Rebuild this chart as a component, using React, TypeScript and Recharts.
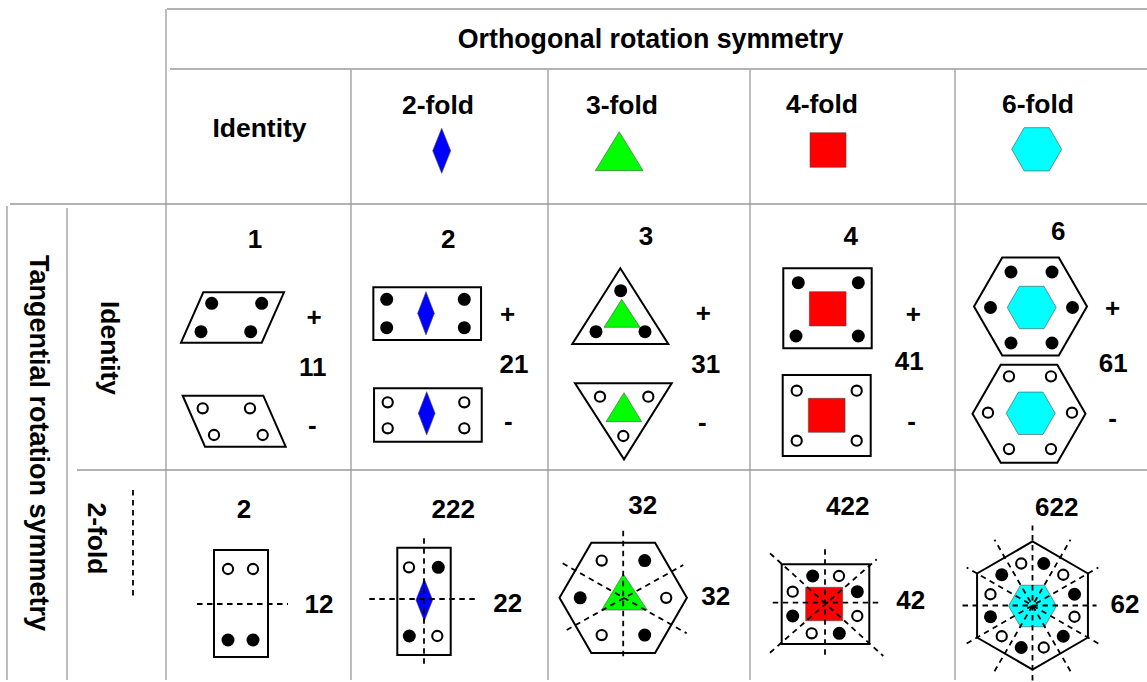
import React from "react";
import { ReferenceLine, Scatter, ScatterChart, XAxis, YAxis } from "recharts";

// ---- content ----
const AXIS_TITLES = ["Orthogonal rotation symmetry", "Tangential rotation symmetry"];
const COLUMN_TITLES = ["Identity", "2-fold", "3-fold", "4-fold", "6-fold"];
const ROW_TITLES = ["Identity", "2-fold"];
const IDENTITY_GROUPS = ["1", "2", "3", "4", "6"];
const IDENTITY_CODES = ["11", "21", "31", "41", "61"];
const TWOFOLD_GROUPS = ["2", "222", "32", "422", "622"];
const TWOFOLD_CODES = ["12", "22", "32", "42", "62"];

// ---- layout ----
const W = 1147;
const H = 682;
const FONT = "'Liberation Sans', Arial, Helvetica, sans-serif";
const GRID = "#9a9a9a";
const BLUE = "#0000ff";
const GREEN = "#00ff00";
const RED = "#ff0000";
const CYAN = "#00ffff";

const COL_EDGES = [166, 351, 548, 750, 955, 1147];
const colX = (i: number) => (COL_EDGES[i] + COL_EDGES[i + 1]) / 2;
const HEADER_Y = 136;
const IDENTITY_Y = 365;
const TWOFOLD_Y = 603;

const GRID_SEGMENTS: [number, number, number, number][] = [
  [167, 9, W, 9],
  [170, 69, W, 69],
  [10, 204, W, 204],
  [77, 470, W, 470],
  [166, 9, 166, 680],
  [7, 206, 7, 680],
  [67, 208, 67, 680],
  [351, 70, 351, 680],
  [548, 70, 548, 680],
  [750, 70, 750, 680],
  [955, 70, 955, 680],
];

// offsets from the cell anchor
const HD_TEXT = [[1, 1], [-11.5, -21.7], [-27, -21.7], [-30.5, -22.7], [-13, -23]];
const HD_GLYPH = [[0, 0], [-7.8, 14.8], [-29.8, 15.2], [-24.5, 14], [-14.3, 13.3]];
const ID_LABEL = [[-3.5, -117], [-1.2, -117], [-3, -120], [-1.8, -120], [7.3, -125]];
const ID_CODE = [[54.2, 11], [64.5, 7.7], [56.7, 8.3], [56.8, 5], [62.3, 6.7]];
const ID_PLUS = [[55.5, -48.3], [58.2, -51], [54.3, -52.3], [60.8, -51], [61.7, -57.7]];
const ID_MINUS = [[53.8, 61.7], [58.8, 57.7], [53.3, 59.3], [59.2, 58.3], [61.7, 55]];
const ID_TOP = [[-26, -47.5], [-22.3, -51.3], [-28.7, -49], [-25, -56.7], [-20.5, -58.5]];
const ID_BOTTOM = [[-24.3, 56.2], [-21.6, 50], [-25.7, 50], [-25.8, 50.5], [-22, 48.7]];
const TF_GLYPH = [[-17.5, 0.5], [-25.5, -1.7], [-25.8, -5.2], [-27.5, 1], [-18.5, 2.5]];
const TF_LABEL = [[-14.5, -85], [3.8, -85], [-6.3, -89], [-4.8, -88], [5.7, -87]];
const TF_CODE = [[60.5, 10], [58.2, 8.7], [66.7, 2], [58.2, 6.3], [74, 10.3]];

type Pt = [number, number];

const toStr = (p: Pt[]) => p.map(([x, y]) => `${x.toFixed(2)},${y.toFixed(2)}`).join(" ");
const at = (ox: number, oy: number, p: Pt[]): Pt[] => p.map(([x, y]) => [ox + x, oy + y] as Pt);
const rect = (w: number, h: number): Pt[] => [[-w / 2, -h / 2], [w / 2, -h / 2], [w / 2, h / 2], [-w / 2, h / 2]];
const diamond = (w: number, h: number): Pt[] => [[0, -h / 2], [w / 2, 0], [0, h / 2], [-w / 2, 0]];
const hexagon = (r: number, start: number): Pt[] =>
  [0, 1, 2, 3, 4, 5].map((k) => {
    const a = ((start + 60 * k) * Math.PI) / 180;
    return [r * Math.cos(a), r * Math.sin(a)] as Pt;
  });
const ring = (r: number, angles: number[]): Pt[] =>
  angles.map((d) => [r * Math.cos((d * Math.PI) / 180), -r * Math.sin((d * Math.PI) / 180)] as Pt);
const ray = (deg: number, back: number, fwd: number): [Pt, Pt] => {
  const c = Math.cos((deg * Math.PI) / 180);
  const s = -Math.sin((deg * Math.PI) / 180);
  return [[-back * c, -back * s], [fwd * c, fwd * s]];
};

function Outline({ p }: { p: Pt[] }) {
  return <polygon points={toStr(p)} fill="#fff" stroke="#000" strokeWidth={2} />;
}

function Solid({ p, fill }: { p: Pt[]; fill: string }) {
  return <polygon points={toStr(p)} fill={fill} stroke="#4a4a4a" strokeWidth={0.6} />;
}

function Dots({ p, filled }: { p: Pt[]; filled: boolean }) {
  return (
    <g>
      {p.map(([x, y], k) =>
        filled ? (
          <circle key={k} cx={x} cy={y} r={6.5} fill="#000" />
        ) : (
          <circle key={k} cx={x} cy={y} r={5.1} fill="#fff" stroke="#000" strokeWidth={2.1} />
        )
      )}
    </g>
  );
}

function Dashes({ ox, oy, segs }: { ox: number; oy: number; segs: [Pt, Pt][] }) {
  return (
    <g>
      {segs.map(([a, b], k) => (
        <line
          key={k}
          x1={ox + a[0]}
          y1={oy + a[1]}
          x2={ox + b[0]}
          y2={oy + b[1]}
          stroke="#000"
          strokeWidth={1.8}
          strokeDasharray="5.5 4.5"
        />
      ))}
    </g>
  );
}

function Txt({ x, y, children, size = 26, rotate = false }: any) {
  return (
    <text
      x={x}
      y={y}
      textAnchor="middle"
      fontFamily={FONT}
      fontWeight={700}
      fontSize={size}
      fill="#000"
      transform={rotate ? `rotate(90 ${x} ${y})` : undefined}
    >
      {children}
    </text>
  );
}

// ---- chart rows ----
const axisTitleData = AXIS_TITLES.map((title, i) =>
  i === 0 ? { x: 650.5, y: 48, title, vertical: false } : { x: 30, y: 443, title, vertical: true }
);
const rowTitleData = ROW_TITLES.map((title, i) => ({ x: i === 0 ? 101 : 88, y: i === 0 ? 348 : 538.5, title, row: i }));
const headerData = COLUMN_TITLES.map((title, col) => ({ x: colX(col), y: HEADER_Y, title, col }));
const identityData = IDENTITY_GROUPS.map((group, col) => ({ x: colX(col), y: IDENTITY_Y, group, code: IDENTITY_CODES[col], col }));
const twofoldData = TWOFOLD_GROUPS.map((group, col) => ({ x: colX(col), y: TWOFOLD_Y, group, code: TWOFOLD_CODES[col], col }));

function renderAxisTitle(props: any) {
  const { cx, cy, payload } = props;
  return (
    <Txt x={cx} y={cy} size={payload.vertical ? 27 : 26.8} rotate={payload.vertical}>
      {payload.title}
    </Txt>
  );
}

function renderRowTitle(props: any) {
  const { cx, cy, payload } = props;
  return (
    <g>
      <Txt x={cx} y={cy} size={26.5} rotate>
        {payload.title}
      </Txt>
      {payload.row === 1 && <Dashes ox={133} oy={cy} segs={[[[0, -48.5], [0, 58.5]]]} />}
    </g>
  );
}

function renderHeader(props: any) {
  const { cx, cy, payload } = props;
  const c = payload.col;
  const gx = cx + HD_GLYPH[c][0];
  const gy = cy + HD_GLYPH[c][1];
  let glyph = null;
  if (c === 1) glyph = <Solid p={at(gx, gy, diamond(18, 45))} fill={BLUE} />;
  if (c === 2) glyph = <Solid p={at(gx, gy, [[0, -19.5], [23.9, 19.5], [-23.9, 19.5]])} fill={GREEN} />;
  if (c === 3) glyph = <Solid p={at(gx, gy, rect(36, 34.6))} fill={RED} />;
  if (c === 4) glyph = <Solid p={at(gx, gy, hexagon(25, 0))} fill={CYAN} />;
  return (
    <g>
      <Txt x={cx + HD_TEXT[c][0]} y={cy + HD_TEXT[c][1]} size={26.5}>
        {payload.title}
      </Txt>
      {glyph}
    </g>
  );
}

function identityGlyphs(c: number, tx: number, ty: number, bx: number, by: number) {
  if (c === 0) {
    return (
      <g>
        <Outline p={at(tx, ty, [[-29.2, -25.2], [51.5, -25.2], [29.2, 25.2], [-51.5, 25.2]])} />
        <Dots filled p={at(tx, ty, [[-20.8, -14.2], [29.2, -14.2], [-31.5, 14.2], [18.2, 14.2]])} />
        <Outline p={at(bx, by, [[-51.5, -25.5], [29.1, -25.5], [51.5, 25.5], [-29.2, 25.5]])} />
        <Dots filled={false} p={at(bx, by, [[-31.5, -12.9], [15.8, -12.9], [-20.2, 13.8], [28.5, 13.8]])} />
      </g>
    );
  }
  if (c === 1) {
    return (
      <g>
        <Outline p={at(tx, ty, rect(107.7, 52.7))} />
        <Solid p={at(tx - 1.2, ty - 0.4, diamond(16.7, 43.3))} fill={BLUE} />
        <Dots filled p={at(tx, ty, [[-40.5, -14.4], [37.1, -14.4], [-40.5, 14], [37.1, 14]])} />
        <Outline p={at(bx, by, rect(107.7, 53.4))} />
        <Solid p={at(bx - 1.2, by - 1.7, diamond(16.7, 43.3))} fill={BLUE} />
        <Dots filled={false} p={at(bx, by, [[-40.2, -12.7], [36.4, -12.7], [-40.2, 13.3], [36.4, 13.3]])} />
      </g>
    );
  }
  if (c === 2) {
    return (
      <g>
        <Outline p={at(tx, ty, [[0, -47.7], [48, 28], [-48, 28]])} />
        <Solid p={at(tx, ty, [[1.4, -16.7], [19.7, 11.3], [-16.3, 11.3]])} fill={GREEN} />
        <Dots filled p={at(tx, ty, [[0.4, -25.3], [-24.3, 15.7], [24.7, 15.7]])} />
        <Outline p={at(bx, by, [[-48.3, -31.7], [48.4, -31.7], [0.7, 44.3]])} />
        <Solid p={at(bx, by, [[0.7, -22.3], [18.4, 6.7], [-17.3, 6.7]])} fill={GREEN} />
        <Dots filled={false} p={at(bx, by, [[-23.3, -18.3], [25, -18.3], [0, 21]])} />
      </g>
    );
  }
  if (c === 3) {
    return (
      <g>
        <Outline p={at(tx, ty, rect(88.4, 80))} />
        <Solid p={at(tx + 0.2, ty + 0.5, rect(36.7, 34.3))} fill={RED} />
        <Dots filled p={at(tx, ty, [[-29.2, -25.6], [30.8, -25.6], [-31.5, 27.7], [30.8, 27.7]])} />
        <Outline p={at(bx, by, rect(88, 81))} />
        <Solid p={at(bx, by - 0.2, rect(36.7, 34))} fill={RED} />
        <Dots filled={false} p={at(bx, by, [[-30, -24.8], [30, -24.8], [-30, 25.2], [30, 25.2]])} />
      </g>
    );
  }
  const six = [0, 60, 120, 180, 240, 300];
  return (
    <g>
      <Outline p={at(tx, ty, hexagon(56.5, 0))} />
      <Solid p={at(tx + 1.2, ty + 1, hexagon(24.5, 0))} fill={CYAN} />
      <Dots filled p={at(tx + 1, ty + 1, ring(41, six))} />
      <Outline p={at(bx, by, hexagon(56.5, 0))} />
      <Solid p={at(bx + 1.7, by - 0.4, hexagon(24.5, 0))} fill={CYAN} />
      <Dots filled={false} p={at(bx + 1, by - 1, ring(42, six))} />
    </g>
  );
}

function renderIdentity(props: any) {
  const { cx, cy, payload } = props;
  const c = payload.col;
  return (
    <g>
      {identityGlyphs(c, cx + ID_TOP[c][0], cy + ID_TOP[c][1], cx + ID_BOTTOM[c][0], cy + ID_BOTTOM[c][1])}
      <Txt x={cx + ID_LABEL[c][0]} y={cy + ID_LABEL[c][1]}>{payload.group}</Txt>
      <Txt x={cx + ID_CODE[c][0]} y={cy + ID_CODE[c][1]}>{payload.code}</Txt>
      <Txt x={cx + ID_PLUS[c][0]} y={cy + ID_PLUS[c][1] + 9.2}>+</Txt>
      <Txt x={cx + ID_MINUS[c][0]} y={cy + ID_MINUS[c][1] + 6.8}>-</Txt>
    </g>
  );
}

function twofoldGlyphs(c: number, gx: number, gy: number) {
  if (c === 0) {
    return (
      <g>
        <Outline p={at(gx, gy, rect(54, 107))} />
        <Dashes ox={gx} oy={gy} segs={[[[-44, 0.5], [47, 0.5]]]} />
        <Dots filled={false} p={at(gx, gy, [[-13, -34.5], [12, -34.5]])} />
        <Dots filled p={at(gx, gy, [[-13, 36.5], [12, 36.5]])} />
      </g>
    );
  }
  if (c === 1) {
    return (
      <g>
        <Outline p={at(gx, gy, rect(53.4, 107.3))} />
        <Solid p={at(gx + 0.3, gy - 1.3, diamond(16.7, 42))} fill={BLUE} />
        <Dashes ox={gx} oy={gy} segs={[[[0, -63], [0, 63.7]], [[-54.7, -2.3], [52, -2.3]]]} />
        <Dots filled={false} p={at(gx, gy, [[-15, -34], [13.3, 34.7]])} />
        <Dots filled p={at(gx, gy, [[14.3, -34], [-14.7, 34.7]])} />
      </g>
    );
  }
  if (c === 2) {
    return (
      <g>
        <Outline p={at(gx, gy, hexagon(63.7, 0))} />
        <Solid p={at(gx, gy, [[0.1, -23.8], [24.1, 12.2], [-21.5, 12.2]])} fill={GREEN} />
        <Dashes
          ox={gx}
          oy={gy}
          segs={[
            [[0, -67], [0, 63]],
            [[-60.5, -34.5], [63.5, 35.5]],
            [[-56.5, 32.2], [60.1, -32.8]],
          ]}
        />
        <Dots filled={false} p={at(gx, gy, ring(43, [0, 120, 240]))} />
        <Dots filled p={at(gx, gy, ring(43, [60, 180, 300]))} />
      </g>
    );
  }
  if (c === 3) {
    return (
      <g>
        <Outline p={at(gx + 0.5, gy + 0.2, rect(87.6, 79.7))} />
        <Solid p={at(gx - 0.8, gy, rect(37, 33.4))} fill={RED} />
        <Dashes
          ox={gx}
          oy={gy}
          segs={[
            [[0, -54.7], [0, 52.7]],
            [[-52.3, -1.3], [53.3, -1.3]],
            [[-55, -50.7], [58.3, 52]],
            [[-55, 48.7], [51.7, -44.7]],
          ]}
        />
        <Dots filled p={at(gx, gy, [[-12.3, -28], [32.3, -12.3], [-32.3, 12], [14.3, 29.3]])} />
        <Dots filled={false} p={at(gx, gy, [[14, -28], [-32.3, -12.3], [32.3, 12], [-13.3, 29.3]])} />
      </g>
    );
  }
  return (
    <g>
      <Outline p={at(gx, gy, hexagon(64, 30))} />
      <Solid p={at(gx, gy + 0.5, hexagon(24, 0))} fill={CYAN} />
      <Dashes
        ox={gx}
        oy={gy}
        segs={[ray(0, 70, 64), ray(30, 76, 76), ray(60, 76, 76), ray(90, 75, 80), ray(120, 76, 76), ray(150, 76, 76)]}
      />
      <Dots filled p={at(gx, gy, ring(43.5, [15, 75, 135, 195, 255, 315]))} />
      <Dots filled={false} p={at(gx, gy, ring(43.5, [45, 105, 165, 225, 285, 345]))} />
    </g>
  );
}

function renderTwofold(props: any) {
  const { cx, cy, payload } = props;
  const c = payload.col;
  return (
    <g>
      {twofoldGlyphs(c, cx + TF_GLYPH[c][0], cy + TF_GLYPH[c][1])}
      <Txt x={cx + TF_LABEL[c][0]} y={cy + TF_LABEL[c][1]}>{payload.group}</Txt>
      <Txt x={cx + TF_CODE[c][0]} y={cy + TF_CODE[c][1]}>{payload.code}</Txt>
    </g>
  );
}

export default function App() {
  return (
    <div style={{ position: "absolute", left: 0, top: 0, width: W, height: H, background: "#fff" }}>
      <ScatterChart width={W} height={H} margin={{ top: 0, right: 0, bottom: 0, left: 0 }}>
        <XAxis type="number" dataKey="x" domain={[0, W]} hide />
        <YAxis type="number" dataKey="y" domain={[0, H]} reversed hide />
        {GRID_SEGMENTS.map(([x1, y1, x2, y2], k) => (
          <ReferenceLine
            key={k}
            segment={[{ x: x1, y: y1 }, { x: x2, y: y2 }]}
            stroke={GRID}
            strokeWidth={1.3}
            ifOverflow="visible"
          />
        ))}
        <Scatter data={axisTitleData} shape={renderAxisTitle} isAnimationActive={false} />
        <Scatter data={rowTitleData} shape={renderRowTitle} isAnimationActive={false} />
        <Scatter data={headerData} shape={renderHeader} isAnimationActive={false} />
        <Scatter data={identityData} shape={renderIdentity} isAnimationActive={false} />
        <Scatter data={twofoldData} shape={renderTwofold} isAnimationActive={false} />
      </ScatterChart>
    </div>
  );
}
